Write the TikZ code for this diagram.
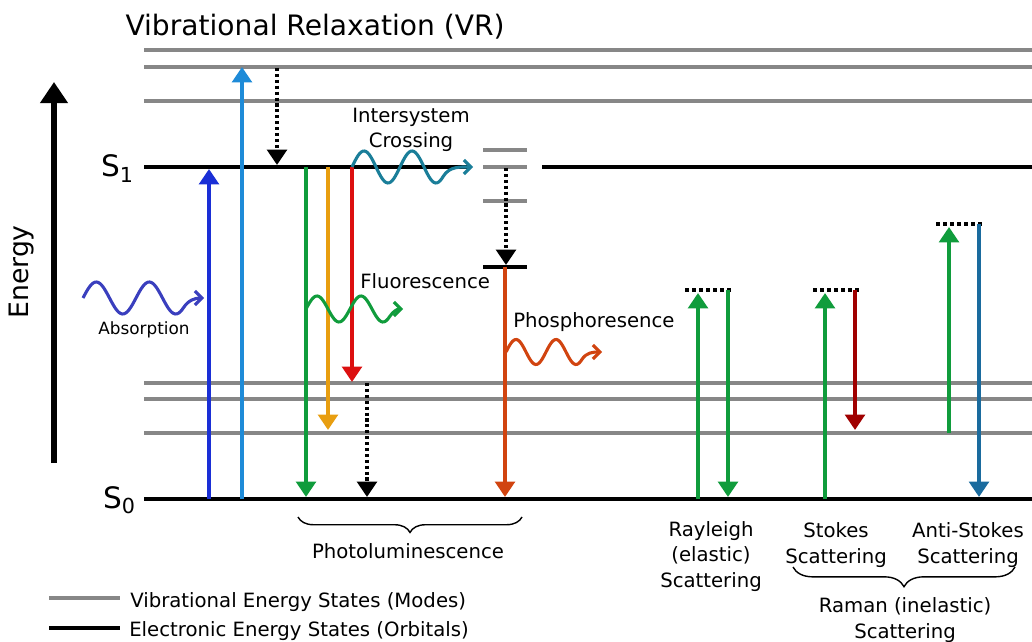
\documentclass[tikz,border=0pt]{standalone}
\usepackage{fontspec}
\setmainfont{DejaVu Sans}
\usetikzlibrary{arrows.meta,decorations.pathreplacing}

\definecolor{vibgray}{HTML}{878787}
\definecolor{absblue}{HTML}{1A2FD6}
\definecolor{wavblue}{HTML}{3A3FBE}
\definecolor{skyblue}{HTML}{1E8BD8}
\definecolor{fgreen}{HTML}{109C3C}
\definecolor{amber}{HTML}{E89E10}
\definecolor{fred}{HTML}{DC1010}
\definecolor{iscteal}{HTML}{1A7E99}
\definecolor{rust}{HTML}{D14410}
\definecolor{maroon}{HTML}{A00000}
\definecolor{steel}{HTML}{1A6B9E}

\begin{document}
\begin{tikzpicture}[x=0.025cm, y=-0.025cm,
      vib/.style = {draw=vibgray, line width=2.6pt},
      orb/.style = {draw=black, line width=3pt},
     jump/.style = {line width=2.8pt, -{Triangle[width=14pt, length=11pt]}},
    relax/.style = {jump, draw=black, dash pattern=on 2.2pt off 2pt},
  virtual/.style = {draw=black, line width=2.8pt, dash pattern=on 3pt off 2pt},
     wave/.style = {line width=2.2pt, -{Straight Barb[length=5pt, width=10pt]}},
      lbl/.style = {font=\fontsize{14}{17.8}\selectfont, align=center, inner sep=0pt},
  bracket/.style = {draw=black, line width=1pt, decorate,
                    decoration={brace, amplitude=#1}}]%
  \useasboundingbox (0,0) rectangle (1032,642);
  % energy axis
  \coordinate (e0) at (54,463);
  \coordinate (e1) at (54,82);
  \draw [line width=4pt, -{Triangle[width=19pt, length=15pt]}] (e0) -- (e1);
  \node (energy) [rotate=90, font=\fontsize{19}{22}\selectfont] at (22,272) {Energy};
  \node (vr) [anchor=base, font=\fontsize{20}{24}\selectfont, inner sep=0pt]
        at (315,36) {Vibrational Relaxation (VR)};
  % levels
  \draw [vib] (144,50) -- (1032,50);
  \draw [vib] (144,67) -- (1032,67);
  \draw [vib] (144,101) -- (1032,101);
  \draw [orb] (144,167) -- (470,167);
  \draw [orb] (542,167) -- (1032,167);
  \draw [vib] (483,150) -- (527,150);
  \draw [vib] (483,167) -- (527,167);
  \draw [vib] (483,201) -- (527,201);
  \draw [orb] (483,267) -- (527,267);
  \draw [vib] (144,383) -- (1032,383);
  \draw [vib] (144,399) -- (1032,399);
  \draw [vib] (144,433) -- (1032,433);
  \draw [orb] (144,499) -- (1032,499);
  \node (s1) [anchor=base east, font=\fontsize{21}{24}\selectfont, inner sep=0pt]
        at (134,177) {S\textsubscript{1}};
  \node (s0) [anchor=base east, font=\fontsize{21}{24}\selectfont, inner sep=0pt]
        at (136,508) {S\textsubscript{0}};
  % absorption
  \coordinate (a0) at (209,499);  \coordinate (a1) at (209,169);
  \coordinate (b0) at (242,499);  \coordinate (b1) at (242,67);
  \draw [jump, absblue] (a0) -- (a1);
  \draw [jump, skyblue] (b0) -- (b1);
  \coordinate (w0) at (83,298);
  \begin{scope}[shift={(w0)}]
    \draw [wave, wavblue] plot [domain=0:1.9, samples=60] ({53*\x}, {-16*sin(360*\x)})
          to [out=57, in=180] (121,0);
  \end{scope}
  \node (absorption) [anchor=base, font=\fontsize{12}{14}\selectfont, inner sep=0pt]
        at (144,335) {Absorption};
  % vibrational relaxation
  \coordinate (v0) at (277,68);   \coordinate (v1) at (277,165);
  \draw [relax] (v0) -- (v1);
  % fluorescence
  \coordinate (f0) at (306,167);  \coordinate (f1) at (306,497);
  \coordinate (g0) at (328,167);  \coordinate (g1) at (328,430);
  \coordinate (h0) at (352,167);  \coordinate (h1) at (352,382);
  \draw [jump, fgreen] (f0) -- (f1);
  \draw [jump, amber] (g0) -- (g1);
  \draw [jump, fred] (h0) -- (h1);
  \coordinate (k0) at (367,383);  \coordinate (k1) at (367,497);
  \draw [relax] (k0) -- (k1);
  \coordinate (fw0) at (306,309);
  \begin{scope}[shift={(fw0)}]
    \draw [wave, fgreen] plot [domain=0:1.9, samples=60] ({44*\x}, {-13*sin(360*\x)})
          to [out=56, in=180] (97,0);
  \end{scope}
  \node (fluor) [lbl, anchor=base west] at (360,289) {Fluorescence};
  % intersystem crossing
  \coordinate (i0) at (352,167);
  \begin{scope}[shift={(i0)}]
    \draw [wave, iscteal] plot [domain=0:1.9, samples=60] ({48*\x}, {-16*sin(360*\x)})
          to [out=59, in=180] (121,0);
  \end{scope}
  \node (isc) [lbl, anchor=base] at (411,148) {Intersystem\\Crossing};
  % phosphorescence
  \coordinate (t0) at (506,168);  \coordinate (t1) at (506,265);
  \draw [relax] (t0) -- (t1);
  \coordinate (p0) at (505,267);  \coordinate (p1) at (505,497);
  \draw [jump, rust] (p0) -- (p1);
  \coordinate (pw0) at (506,352);
  \begin{scope}[shift={(pw0)}]
    \draw [wave, rust] plot [domain=0:1.9, samples=60] ({40*\x}, {-12.5*sin(360*\x)})
          to [out=58, in=180] (96,0);
  \end{scope}
  \node (phos) [lbl, anchor=base west] at (513,328) {Phosphoresence};
  % rayleigh
  \coordinate (r0) at (698,499);  \coordinate (r1) at (698,293);
  \coordinate (r2) at (728,290);  \coordinate (r3) at (728,497);
  \draw [virtual] (685,290) -- (733,290);
  \draw [jump, fgreen] (r0) -- (r1);
  \draw [jump, fgreen] (r2) -- (r3);
  % stokes
  \coordinate (st0) at (825,499); \coordinate (st1) at (825,293);
  \coordinate (st2) at (855,290); \coordinate (st3) at (855,430);
  \draw [virtual] (813,290) -- (860,290);
  \draw [jump, fgreen] (st0) -- (st1);
  \draw [jump, maroon] (st2) -- (st3);
  % anti-stokes
  \coordinate (as0) at (949,433); \coordinate (as1) at (949,227);
  \coordinate (as2) at (979,224); \coordinate (as3) at (979,497);
  \draw [virtual] (936,224) -- (983,224);
  \draw [jump, fgreen] (as0) -- (as1);
  \draw [jump, steel] (as2) -- (as3);
  % labels below
  \coordinate (pl0) at (522,517); \coordinate (pl1) at (298,517);
  \draw [bracket=11pt] (pl0) -- (pl1);
  \node (photolum) [lbl, anchor=base] at (408,558) {Photoluminescence};
  \node (rayleigh) [lbl, anchor=base] at (711,587) {Rayleigh\\(elastic)\\Scattering};
  \node (stokes) [lbl, anchor=base] at (836,563) {Stokes\\Scattering};
  \node (antistokes) [lbl, anchor=base] at (968,563) {Anti-Stokes\\Scattering};
  \coordinate (rm0) at (1015,567); \coordinate (rm1) at (793,567);
  \draw [bracket=14pt] (rm0) -- (rm1);
  \node (raman) [lbl, anchor=base] at (905,638) {Raman (inelastic)\\Scattering};
  % legend
  \coordinate (lg0) at (49,598);  \coordinate (lg1) at (120,598);
  \coordinate (lk0) at (49,628);  \coordinate (lk1) at (120,628);
  \draw [vib] (lg0) -- (lg1);
  \draw [orb] (lk0) -- (lk1);
  \node (vibkey) [lbl, anchor=base west] at (130,607) {Vibrational Energy States (Modes)};
  \node (orbkey) [lbl, anchor=base west] at (129,636) {Electronic Energy States (Orbitals)};
\end{tikzpicture}
\end{document}
